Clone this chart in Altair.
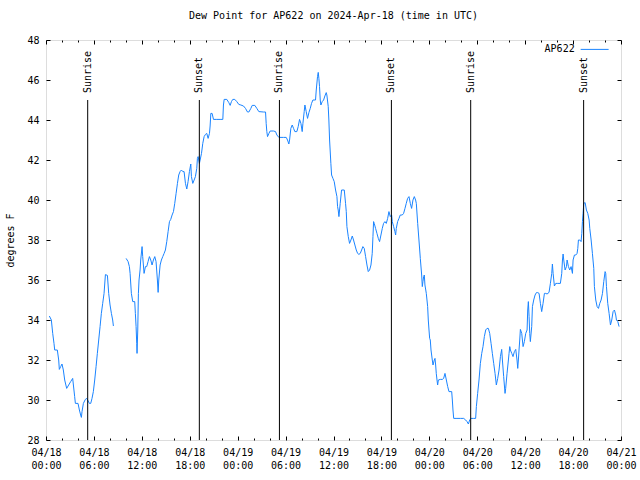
import altair as alt
import pandas as pd

# hours since 2024-04-18 00:00 UTC
hours = [0.42, 0.67, 0.84, 1.00, 1.09, 1.42, 1.59, 1.67, 1.84, 2.00, 2.17, 2.34, 2.59, 2.84, 3.09, 3.34, 3.43,
         3.59, 3.68, 4.01, 4.18, 4.34, 4.43, 4.51, 4.68, 4.93, 5.10, 5.26, 5.43, 5.60, 5.76, 5.93, 6.10, 6.27,
         6.43, 6.60, 6.77, 6.93, 7.10, 7.27, 7.44, 7.69, 7.85, 8.02, 8.19, 8.35, 8.44,
         10.03, 10.28, 10.44, 10.53, 10.69, 10.86, 11.11, 11.19, 11.28, 11.36, 11.40, 11.49, 11.57, 11.65, 11.78,
         11.86, 12.03, 12.11, 12.28, 12.45, 12.61, 12.78, 12.95, 13.12, 13.28, 13.45, 13.62, 13.78, 13.95, 14.04,
         14.12, 14.29, 14.45, 14.62, 14.79, 14.95, 15.12, 15.29, 15.46, 15.62, 15.79, 15.96, 16.12, 16.29, 16.46,
         16.62, 16.79, 16.96, 17.13, 17.29, 17.46, 17.63, 17.79, 17.96, 18.13, 18.21, 18.38, 18.55, 18.71, 18.88,
         18.96, 19.05, 19.21, 19.30, 19.47, 19.63, 19.80, 19.97, 20.13, 20.30, 20.47, 20.55, 20.64, 20.80, 20.97,
         21.39, 21.80, 22.14, 22.22, 22.31, 22.64, 22.89, 23.06, 23.22, 23.39, 23.64, 23.89, 24.14,
         24.40, 24.73, 24.98, 25.23, 25.40, 25.65, 25.82, 26.15, 26.40, 26.65, 27.24, 27.49, 27.57, 27.65, 27.74,
         27.91, 28.07, 28.49, 28.74, 28.91, 29.16, 29.74, 30.08, 30.24, 30.41, 30.50, 30.66, 30.83, 31.00, 31.16,
         31.41, 31.58, 31.75, 31.92, 32.08, 32.17, 32.33, 32.42, 32.58, 32.75, 32.92, 33.09, 33.25, 33.42, 33.75,
         33.84, 34.00, 34.09, 34.17, 34.25, 34.34, 34.42, 34.59, 34.76, 34.92, 35.09, 35.17, 35.34, 35.42, 35.51,
         35.67, 35.76, 35.93, 36.09, 36.26, 36.43, 36.51, 36.59, 36.68, 36.84, 37.01, 37.35, 37.51, 37.60, 37.68,
         37.85, 38.01, 38.18, 38.35, 38.51, 38.68, 38.85, 39.02, 39.18, 39.35, 39.52, 39.68, 39.85, 40.02, 40.19,
         40.35, 40.52, 40.69, 40.85, 40.94, 41.02, 41.10, 41.27, 41.44, 41.61, 41.77, 41.94, 42.11, 42.27, 42.44,
         42.61, 42.78, 42.94, 43.11, 43.28, 43.36, 43.53, 43.69, 43.78, 43.86, 44.03, 44.20, 44.36, 44.61, 44.78,
         44.95, 45.11, 45.28, 45.45, 45.62, 45.78, 45.95, 46.12, 46.28, 46.37, 46.54, 46.70, 46.87, 47.04, 47.12,
         47.20, 47.29, 47.37, 47.45, 47.62, 47.79, 47.87, 47.96, 48.04,
         48.12, 48.21, 48.37, 48.46, 48.62, 48.71, 48.79, 48.87, 48.96, 49.04, 49.13, 49.38, 49.63, 49.79, 49.96,
         50.13, 50.30, 50.46, 50.80, 50.88, 50.96, 51.05, 51.46, 51.88, 52.30, 52.55, 52.72, 52.89, 53.05, 53.22,
         53.55, 53.80, 53.89, 54.05, 54.22, 54.39, 54.56, 54.72, 54.89, 55.06, 55.22, 55.39, 55.56, 55.73, 55.89,
         56.06, 56.23, 56.39, 56.56, 56.73, 56.90, 57.06, 57.15, 57.31, 57.48, 57.56, 57.73, 57.90, 57.98, 58.07,
         58.15, 58.32, 58.48, 58.65, 58.82, 58.98, 59.07, 59.15, 59.23, 59.32, 59.40, 59.57, 59.74, 59.90, 60.07,
         60.24, 60.32, 60.40, 60.49, 60.57, 60.65, 60.82, 60.91, 61.07, 61.24, 61.41, 61.57, 61.74, 61.91, 62.07,
         62.24, 62.41, 62.58, 62.74, 62.99, 63.16, 63.33, 63.41, 63.50, 63.66, 63.83, 64.08, 64.41, 64.58, 64.67,
         64.75, 64.83, 65.00, 65.17, 65.25, 65.42, 65.58, 65.75, 65.92, 66.00, 66.17, 66.34, 66.50, 66.59, 66.67,
         66.84, 67.00, 67.09, 67.17, 67.25, 67.34, 67.51, 67.67, 67.84, 68.01, 68.09, 68.26, 68.42, 68.59, 68.67,
         68.84, 69.01, 69.18, 69.34, 69.51, 69.68, 69.84, 70.01, 70.09, 70.18, 70.34, 70.51, 70.68, 70.84, 71.01,
         71.18, 71.34, 71.43, 71.60, 71.76]

dewpoint = [34.20, 34.00, 33.33, 32.83, 32.50, 32.50, 32.00, 31.53, 31.67, 31.80, 31.50, 31.00, 30.58, 30.75,
            30.92, 31.08, 30.75, 30.17, 29.83, 29.83, 29.50, 29.25, 29.13, 29.42, 29.83, 30.03, 30.08, 29.97,
            29.83, 29.83, 30.08, 30.42, 31.00, 31.67, 32.33, 33.00, 33.67, 34.33, 34.83, 35.33, 36.27, 36.23,
            35.33, 34.75, 34.33, 34.00, 33.70,
            37.08, 36.92, 36.67, 36.33, 35.33, 34.92, 34.92, 34.33, 33.67, 32.83, 32.33, 33.50, 35.33, 36.00, 36.50,
            37.00, 37.67, 37.17, 36.33, 36.67, 36.67, 36.92, 37.17, 37.00, 36.75, 37.00, 37.17, 36.92, 36.00, 35.38,
            36.00, 36.75, 37.00, 37.17, 37.33, 37.50, 37.92, 38.42, 38.92, 39.03, 39.25, 39.42, 39.83, 40.33, 40.83,
            41.25, 41.42, 41.50, 41.42, 41.42, 40.83, 40.55, 40.92, 41.42, 41.80, 41.17, 40.83, 41.00, 41.17, 41.58,
            42.08, 42.17, 41.83, 42.00, 42.33, 42.83, 43.17, 43.28, 43.33, 43.08, 43.33, 43.70, 44.33, 44.33, 44.03,
            44.03, 44.03, 44.03, 44.75, 45.03, 45.03, 44.87, 44.73, 44.92, 45.03, 45.03, 44.92, 44.78,
            44.75, 44.70, 44.58, 44.40, 44.40, 44.58, 44.73, 44.73, 44.58, 44.42, 44.40, 44.40, 43.83, 43.42, 43.17,
            43.33, 43.45, 43.45, 43.42, 43.25, 43.13, 43.13, 43.13, 43.00, 42.80, 43.00, 43.58, 43.75, 43.58, 43.42,
            43.42, 43.67, 44.03, 43.83, 43.42, 43.83, 44.42, 44.75, 44.42, 44.08, 44.37, 44.58, 44.83, 45.00, 45.00,
            45.50, 46.17, 46.38, 46.08, 45.67, 45.00, 44.75, 44.92, 45.00, 45.20, 45.37, 45.25, 44.67, 44.00, 43.00,
            41.83, 41.25, 41.08, 40.92, 40.50, 40.17, 39.67, 39.50, 39.17, 39.83, 40.50, 40.50, 39.83, 39.42, 38.67,
            38.17, 37.83, 38.00, 38.20, 38.00, 37.75, 37.50, 37.33, 37.28, 37.33, 37.50, 37.67, 37.58, 37.17, 36.75,
            36.42, 36.50, 36.75, 37.33, 38.17, 38.92, 38.83, 38.58, 38.33, 38.08, 37.92, 38.25, 38.58, 38.83, 38.92,
            38.83, 39.08, 39.42, 39.17, 39.25, 38.92, 38.67, 38.42, 38.25, 38.58, 38.92, 39.08, 39.25, 39.25, 39.33,
            39.58, 39.83, 40.08, 40.17, 39.83, 39.58, 40.00, 40.17, 40.00, 39.83, 38.83, 38.00, 37.08, 36.25, 35.67,
            35.92, 36.17, 36.25, 35.75, 35.33, 34.67, 34.00, 33.50, 33.08,
            33.00, 32.50, 32.00, 31.75, 32.00, 32.08, 31.75, 31.33, 31.00, 30.75, 31.00, 31.03, 31.03, 31.08, 31.33,
            31.00, 30.67, 30.42, 30.42, 30.00, 29.50, 29.08, 29.08, 29.08, 29.08, 29.00, 28.92, 28.80, 29.00, 29.08,
            29.08, 29.08, 29.67, 30.33, 31.00, 31.83, 32.33, 32.67, 33.17, 33.50, 33.58, 33.58, 33.33, 32.83, 32.33,
            31.83, 31.33, 30.75, 31.08, 31.50, 32.17, 32.53, 32.00, 31.17, 30.33, 30.58, 31.33, 32.00, 32.33, 32.67,
            32.50, 32.33, 32.17, 32.42, 32.53, 32.00, 31.58, 32.00, 32.50, 33.00, 33.53, 33.33, 32.67, 32.92, 33.33,
            33.50, 34.50, 34.92, 34.17, 33.33, 32.92, 33.67, 34.67, 35.00, 35.25, 35.37, 35.37, 35.33, 34.83, 34.42,
            34.83, 35.33, 35.33, 35.30, 35.38, 35.83, 36.33, 36.80, 36.33, 35.70, 35.83, 35.83, 35.83, 36.33, 37.00,
            37.30, 37.00, 36.50, 36.67, 37.00, 36.67, 36.50, 36.67, 36.33, 37.00, 37.25, 37.25, 37.33, 37.58, 38.00,
            38.00, 37.92, 38.33, 38.92, 39.33, 39.83, 39.87, 39.50, 39.33, 39.00, 38.58, 38.00, 37.33, 36.58, 35.67,
            35.00, 34.67, 34.58, 34.83, 35.00, 35.33, 35.92, 36.42, 36.33, 35.67, 34.83, 34.33, 33.75, 34.00, 34.42,
            34.50, 34.25, 34.00, 33.92, 33.67]

sun_hours = [5.22, 19.20, 29.23, 43.25, 53.18, 67.32]
sun_labels = ["Sunrise", "Sunset", "Sunrise", "Sunset", "Sunrise", "Sunset"]

series_name = "AP622"
title_text = "Dew Point for AP622 on 2024-Apr-18 (time in UTC)"
y_title = "degrees F"
major_x = list(range(0, 73, 6))
minor_x = [h for h in range(0, 73, 2) if h % 6 != 0]
y_ticks = list(range(28, 49, 2))

FONT = "DejaVu Sans Mono"
LINE_COLOR = "#1a84ff"
RULE_TOP = 45.0
LABEL_BASE = 45.35
LEGEND_Y = 47.53

df = pd.DataFrame({"h": hours, "v": dewpoint})
df["seg"] = (df["h"] > 9).astype(int)
sun = pd.DataFrame({"h": sun_hours, "label": sun_labels})

xscale = alt.Scale(domain=[0, 72], nice=False, zero=False)
yscale = alt.Scale(domain=[28, 48], nice=False, zero=False)


def tick_axis(orient, values, size):
    return alt.Axis(orient=orient, values=values, labels=False, domain=False, grid=False,
                    ticks=True, tickSize=size, offset=-size, tickColor="black", tickWidth=1,
                    title=None)


label_expr = ("['04/' + (18 + floor(datum.value / 24)), "
              "(datum.value % 24 < 10 ? '0' : '') + (datum.value % 24) + ':00']")

x_label_axis = alt.Axis(orient="bottom", values=major_x, labelExpr=label_expr, ticks=False,
                        domain=False, grid=False, labelFont=FONT, labelFontSize=10,
                        labelColor="black", labelPadding=7, labelLineHeight=13,
                        labelBaseline="top", labelAlign="center", title=None)
y_label_axis = alt.Axis(orient="left", values=y_ticks, ticks=False, domain=False, grid=False,
                        labelFont=FONT, labelFontSize=10, labelColor="black", labelPadding=7,
                        title=y_title, titleFont=FONT, titleFontSize=10, titleFontWeight="normal",
                        titleColor="black", titleX=-36, titleY=200, titleAngle=270,
                        titleAlign="center", titleBaseline="middle")

line = alt.Chart(df).mark_line(color=LINE_COLOR, strokeWidth=1, interpolate="linear").encode(
    x=alt.X("h:Q", scale=xscale, axis=x_label_axis),
    y=alt.Y("v:Q", scale=yscale, axis=y_label_axis),
    detail="seg:N",
)

rules = alt.Chart(sun).mark_rule(color="black", strokeWidth=1).encode(
    x=alt.X("h:Q", scale=xscale, axis=tick_axis("bottom", major_x, 4)),
    y=alt.YDatum(RULE_TOP, type="quantitative", scale=yscale, axis=tick_axis("left", y_ticks, 4)),
    y2=alt.Y2Datum(28),
)

sun_text = alt.Chart(sun).mark_text(angle=270, align="left", baseline="middle", font=FONT,
                                    fontSize=10, color="black").encode(
    x=alt.X("h:Q", scale=xscale, axis=tick_axis("bottom", minor_x, 2)),
    y=alt.YDatum(LABEL_BASE, type="quantitative", scale=yscale, axis=tick_axis("right", y_ticks, 4)),
    text="label:N",
)

legend_df = pd.DataFrame({"name": [series_name]})
legend_text = alt.Chart(legend_df).mark_text(align="right", baseline="middle", font=FONT,
                                             fontSize=10, color="black").encode(
    x=alt.XDatum(66.2, type="quantitative", scale=xscale, axis=tick_axis("top", major_x, 4)),
    y=alt.YDatum(LEGEND_Y, type="quantitative", scale=yscale, axis=None),
    text="name:N",
)

legend_line = alt.Chart(legend_df).mark_rule(color=LINE_COLOR, strokeWidth=1).encode(
    x=alt.XDatum(66.95, type="quantitative", scale=xscale, axis=tick_axis("top", minor_x, 2)),
    x2=alt.X2Datum(70.45),
    y=alt.YDatum(LEGEND_Y, type="quantitative", scale=yscale, axis=None),
)

chart = alt.layer(line, rules, sun_text, legend_text, legend_line).resolve_axis(
    x="independent", y="independent"
).properties(
    width=575, height=400,
    autosize=alt.AutoSizeParams(type="none"),
    padding={"left": 46, "top": 40, "right": 19, "bottom": 40},
    title=alt.Title(title_text, font=FONT, fontSize=10, fontWeight="normal", color="black",
                    anchor="middle", frame="group", offset=14),
).configure_view(stroke="black", strokeWidth=1).configure(background="white")

chart.save("out.html", embed_options={"renderer": "svg", "actions": False})
